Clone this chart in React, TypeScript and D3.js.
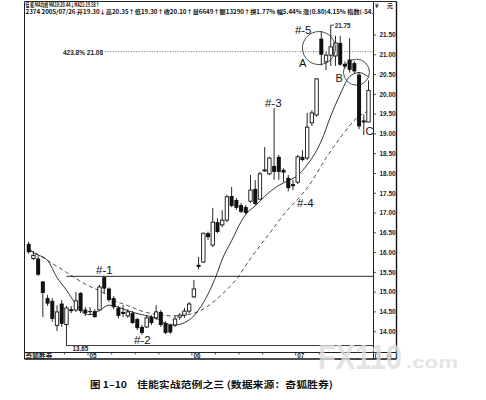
import React from 'react';
import * as d3 from 'd3';

// ---- candle data (2374 佳能, daily) ----
const opens = [16.22,15.85,15.85,15.27,14.85,14.78,14.16,14.71,14.18,14.57,14.55,14.98,14.56,14.52,14.52,14.55,15.38,15.09,14.85,14.60,14.50,14.40,14.47,14.32,14.12,14.12,14.37,14.35,14.50,14.22,14.17,14.17,14.37,14.42,14.52,14.88,15.69,15.76,16.49,16.19,16.77,16.70,16.82,17.43,17.33,17.20,17.15,17.30,17.61,17.35,18.07,17.99,18.19,18.42,18.09,17.89,17.73,17.78,18.42,18.39,19.28,19.48,21.41,20.82,20.99,20.97,21.30,20.77,20.88,20.79,20.50,19.34,19.30];
const highs = [16.27,16.04,15.91,15.28,14.93,14.85,14.67,14.80,14.65,14.65,15.00,15.00,14.62,14.62,14.57,15.18,15.40,15.12,14.90,14.65,14.67,14.57,14.52,14.35,14.17,14.42,14.42,14.67,14.55,14.27,14.20,14.40,14.47,14.60,14.75,15.31,15.89,16.50,16.53,17.13,16.87,17.07,17.46,17.66,17.38,17.25,17.20,17.96,17.83,18.04,18.67,18.42,19.65,18.47,18.13,17.96,17.84,18.47,18.59,19.53,19.60,20.41,21.60,21.07,21.75,21.48,21.48,20.83,21.42,20.84,20.56,19.49,20.35];
const lows = [15.97,15.81,15.41,14.37,14.65,14.25,14.02,14.12,13.65,14.47,14.50,14.47,14.40,14.42,14.35,14.52,14.96,14.75,14.57,14.34,14.37,14.35,14.20,14.04,13.92,14.09,14.17,14.30,14.12,13.94,13.95,14.12,14.30,14.35,14.47,14.85,15.58,15.74,16.32,16.14,16.49,16.64,16.77,17.15,17.08,17.00,16.97,17.25,17.20,17.33,18.04,17.96,17.84,17.84,17.78,17.55,17.58,17.73,18.31,18.34,19.20,19.43,20.73,20.61,20.72,20.72,20.72,20.65,20.55,20.53,19.12,18.97,19.30];
const closes = [16.01,15.93,15.44,14.98,14.71,14.32,14.50,14.20,14.60,14.52,14.78,14.52,14.47,14.51,14.37,15.13,15.09,14.80,14.62,14.40,14.45,14.50,14.22,14.09,13.97,14.35,14.22,14.50,14.17,13.97,13.98,14.32,14.42,14.52,14.70,15.08,15.64,16.49,16.39,16.77,16.52,16.82,17.41,17.18,17.13,17.03,17.00,17.58,17.23,17.99,18.09,18.39,18.04,18.04,18.02,17.63,17.68,18.42,18.34,19.17,19.53,20.39,21.00,20.99,21.20,21.30,20.75,20.70,20.62,20.58,19.19,19.29,20.10];

// ---- moving averages (candle index, price) ----
const ma10Idx = [0,1,4,6,8,10,12,13,15,17,19,21,24,27,29,31,33,35,36,38,40,41,43,45,46,48,50,53,55,57,59,61,62,64,66,68,70,72];
const ma10Val = [16.10,16.00,15.80,15.37,15.05,14.70,14.45,14.43,14.54,14.67,14.62,14.53,14.43,14.34,14.21,14.17,14.23,14.40,14.55,14.95,15.50,15.83,16.30,16.78,16.97,17.18,17.42,17.70,17.82,17.95,18.22,18.58,18.82,19.45,20.00,20.45,20.55,20.44];
const ma21Idx = [0,1,4,8,12,16,18,21,24,28,31,33,36,38,41,44,47,51,55,57,60,62,66,70,72];
const ma21Val = [16.05,16.01,15.80,15.50,15.20,14.97,14.80,14.66,14.52,14.42,14.40,14.42,14.51,14.65,14.95,15.33,15.85,16.48,17.10,17.35,17.80,18.20,18.90,19.45,19.58];

// ---- axis ticks ----
const yTicks = [14.0,14.5,15.0,15.5,16.0,16.5,17.0,17.5,18.0,18.5,19.0,19.5,20.0,20.5,21.0,21.5];
const monthLabels = ['05','06','07'];
const monthIdx = [13,35,57];
const weekIdx = [3,8,18,23,28,40,45,50,62,67];

// ---- reference levels ----
const lowIdx = 8;        // 13.65 lowest
const lowValue = 13.65;
const highIdx = 64;      // 21.75 highest
const highValue = 21.75;
const resistIdx = 8;     // #-1 horizontal
const resistValue = 15.40;
const fibValue = 21.08;  // 423.8% 21.08

// ---- annotations (index, price) ----
const circleI = [61.5, 69.45];
const circleV = [21.17, 20.56];
const circleR = [16.5, 13];
const noteText = ['#-5','A','B','C','#-3','#-4','#-1','#-2'];
const noteI = [56.4, 57.3, 65.0, 71.35, 50.06, 56.84, 14.26, 22.31];
const noteV = [21.53, 20.69, 20.31, 18.97, 19.67, 17.15, 15.46, 13.69];

const header1 = '佳 能 MA均线 MA10:20.44↓MA21:19.58↑';
const header2 = '2374 2005/07/26 开19.30↓高20.35↑低19.30↑收20.10↑量6649↑额13290↑换1.77% 幅5.44% 涨(0.80)4.15% 指数(-54.';

export default function App() {
  const n = closes.length;
  const L = 24.5, R = 373.5, T = 1.5, B = 359, BAND = 352.5, RIGHT = 396.5;
  const x = d3.scaleLinear().domain([0, n - 1]).range([28.7, 368.5]);
  const y = d3.scaleLinear().domain([14, 21.5]).range([331.7, 35]);
  const mkLine = (idx: number[], val: number[]) =>
    d3.line<number>()
      .x(k => x(idx[k]))
      .y(k => y(val[k]))
      .curve(d3.curveMonotoneX)(d3.range(idx.length)) || '';
  const sans = 'Liberation Sans, Arial, sans-serif';
  const cjk = '"Noto Sans CJK SC", "Liberation Sans", sans-serif';
  const bw = 3.4;

  return (
    <svg width={486} height={400} viewBox="0 0 486 400"
      style={{ position: 'absolute', left: 0, top: 0, background: '#fff', display: 'block' }}>
      <rect x={0} y={0} width={486} height={400} fill="#fff" />
      <defs>
        <clipPath id="plot"><rect x={L} y={16} width={R - L} height={BAND - 16} /></clipPath>
        <clipPath id="hdr"><rect x={L} y={0} width={R - L} height={18} /></clipPath>
      </defs>

      {/* header */}
      <g clipPath="url(#hdr)" fontFamily={cjk} fontSize={5.6} fontWeight={700} fill="#111">
        <text x={25.5} y={6.6} textLength={74} lengthAdjust="spacingAndGlyphs">{header1}</text>
        <text x={25.5} y={13.8} textLength={348} lengthAdjust="spacingAndGlyphs">{header2}</text>
      </g>

      <g clipPath="url(#plot)">
        {/* 423.8% level */}
        <line x1={105} x2={R} y1={y(fibValue)} y2={y(fibValue)} stroke="#333" strokeWidth={0.7} strokeDasharray="1 1.6" />
        <text x={63} y={y(fibValue) + 3.6} fontFamily={sans} fontSize={6.3} fontWeight={700} fill="#222"
          textLength={40} lengthAdjust="spacingAndGlyphs">423.8% 21.08</text>

        {/* #-1 horizontal level */}
        <line x1={x(resistIdx)} x2={R} y1={y(resistValue)} y2={y(resistValue)} stroke="#111" strokeWidth={0.9} />
        {/* lowest line */}
        <line x1={x(lowIdx)} x2={R} y1={y(lowValue)} y2={y(lowValue)} stroke="#222" strokeWidth={0.9} />
        <text x={x(lowIdx) + 6} y={y(lowValue) + 5.5} fontFamily={sans} fontSize={6.3} fontWeight={700} fill="#222">13.65</text>

        {/* moving averages */}
        <path d={mkLine(ma21Idx, ma21Val)} fill="none" stroke="#222" strokeWidth={0.8} strokeDasharray="4 3" />
        <path d={mkLine(ma10Idx, ma10Val)} fill="none" stroke="#111" strokeWidth={0.85} />

        {/* candles */}
        {closes.map((c, i) => {
          const o = opens[i];
          const cx = x(i);
          const up = c >= o;
          const top = y(Math.max(o, c));
          const bot = y(Math.min(o, c));
          const h = Math.max(bot - top, 1);
          return (
            <g key={i}>
              <line x1={cx} x2={cx} y1={y(highs[i])} y2={y(lows[i])} stroke="#111" strokeWidth={0.9} />
              {up ? (
                <rect x={cx - bw / 2} y={top} width={bw} height={h} fill="#fff" stroke="#111" strokeWidth={0.9} />
              ) : (
                <rect x={cx - bw / 2 - 0.3} y={top} width={bw + 0.6} height={h} fill="#111" />
              )}
            </g>
          );
        })}

        {/* high marker */}
        <line x1={x(highIdx)} x2={x(highIdx) + 3.5} y1={y(highValue)} y2={y(highValue)} stroke="#222" strokeWidth={0.8} />
        <text x={x(highIdx) + 4} y={y(highValue) + 2.4} fontFamily={sans} fontSize={6.3} fontWeight={700} fill="#222">21.75</text>

        {/* circles */}
        {circleI.map((ci, k) => (
          <circle key={k} cx={x(ci)} cy={y(circleV[k])} r={circleR[k]} fill="none" stroke="#222" strokeWidth={0.8} />
        ))}

        {/* notes */}
        {noteText.map((t, k) => (
          <text key={k} x={x(noteI[k])} y={y(noteV[k])} fontFamily={sans}
            fontSize={t.length === 1 ? 11 : 11.5} fill="#111">{t}</text>
        ))}
      </g>

      {/* frame */}
      <line x1={L} x2={L} y1={T} y2={B} stroke="#222" strokeWidth={1} />
      <line x1={L} x2={RIGHT} y1={T} y2={T} stroke="#222" strokeWidth={1} />
      <line x1={R} x2={R} y1={T} y2={B} stroke="#222" strokeWidth={1} />
      <line x1={RIGHT} x2={RIGHT} y1={T} y2={B} stroke="#111" strokeWidth={1.4} />
      <line x1={L} x2={RIGHT} y1={BAND} y2={BAND} stroke="#222" strokeWidth={1} />
      <line x1={L} x2={RIGHT} y1={B} y2={B} stroke="#111" strokeWidth={1.6} />

      {/* top-right unit */}
      <text x={375} y={7.5} fontFamily={cjk} fontSize={6} fontWeight={700} fill="#222">¥</text>
      <text x={387} y={7.5} fontFamily={cjk} fontSize={6} fontWeight={700} fill="#222">元</text>

      {/* y axis */}
      {yTicks.map((v, k) => (
        <g key={k}>
          <line x1={R} x2={R + 2.5} y1={y(v)} y2={y(v)} stroke="#222" strokeWidth={0.8} />
          <text x={395.5} y={y(v) + 2.3} textAnchor="end" fontFamily={sans} fontSize={6.4} fontWeight={700} fill="#222">
            {v.toFixed(2)}
          </text>
        </g>
      ))}

      {/* date band */}
      <text x={25.5} y={358.3} fontFamily={cjk} fontSize={6} fontWeight={700} fill="#222"
        textLength={27} lengthAdjust="spacingAndGlyphs">奇狐胜券</text>
      {weekIdx.map((wi, k) => (
        <line key={'w' + k} x1={x(wi) - 2} x2={x(wi) - 2} y1={BAND} y2={BAND + 2} stroke="#222" strokeWidth={0.8} />
      ))}
      {monthIdx.map((mi, k) => (
        <g key={'m' + k}>
          <line x1={x(mi) - 2} x2={x(mi) - 2} y1={BAND} y2={BAND + 3} stroke="#222" strokeWidth={0.8} />
          <text x={x(mi) - 0.5} y={358.3} fontFamily={sans} fontSize={6.3} fontWeight={700} fill="#222">{monthLabels[k]}</text>
        </g>
      ))}
      <rect x={375.5} y={354} width={4} height={4} fill="none" stroke="#222" strokeWidth={0.7} />
      <text x={386} y={358.5} fontFamily={cjk} fontSize={6} fontWeight={700} fill="#222">日</text>

      {/* watermark */}
      <text x={318} y={369} fontFamily={sans} fontWeight={700} fill="#dedede" opacity={0.8}>
        <tspan fontSize={35} textLength={84} lengthAdjust="spacingAndGlyphs">FX110</tspan>
        <tspan x={406} y={368} fontSize={16} textLength={52} lengthAdjust="spacingAndGlyphs">.com</tspan>
      </text>

      {/* caption */}
      <text x={90} y={387.5} fontFamily={cjk} fontSize={9.5} fontWeight={700} fill="#111"
        textLength={37} lengthAdjust="spacingAndGlyphs">图 1–10</text>
      <text x={137} y={387.5} fontFamily={cjk} fontSize={9.5} fontWeight={700} fill="#111"
        textLength={196} lengthAdjust="spacingAndGlyphs">佳能实战范例之三 (数据来源：奇狐胜券)</text>
    </svg>
  );
}
